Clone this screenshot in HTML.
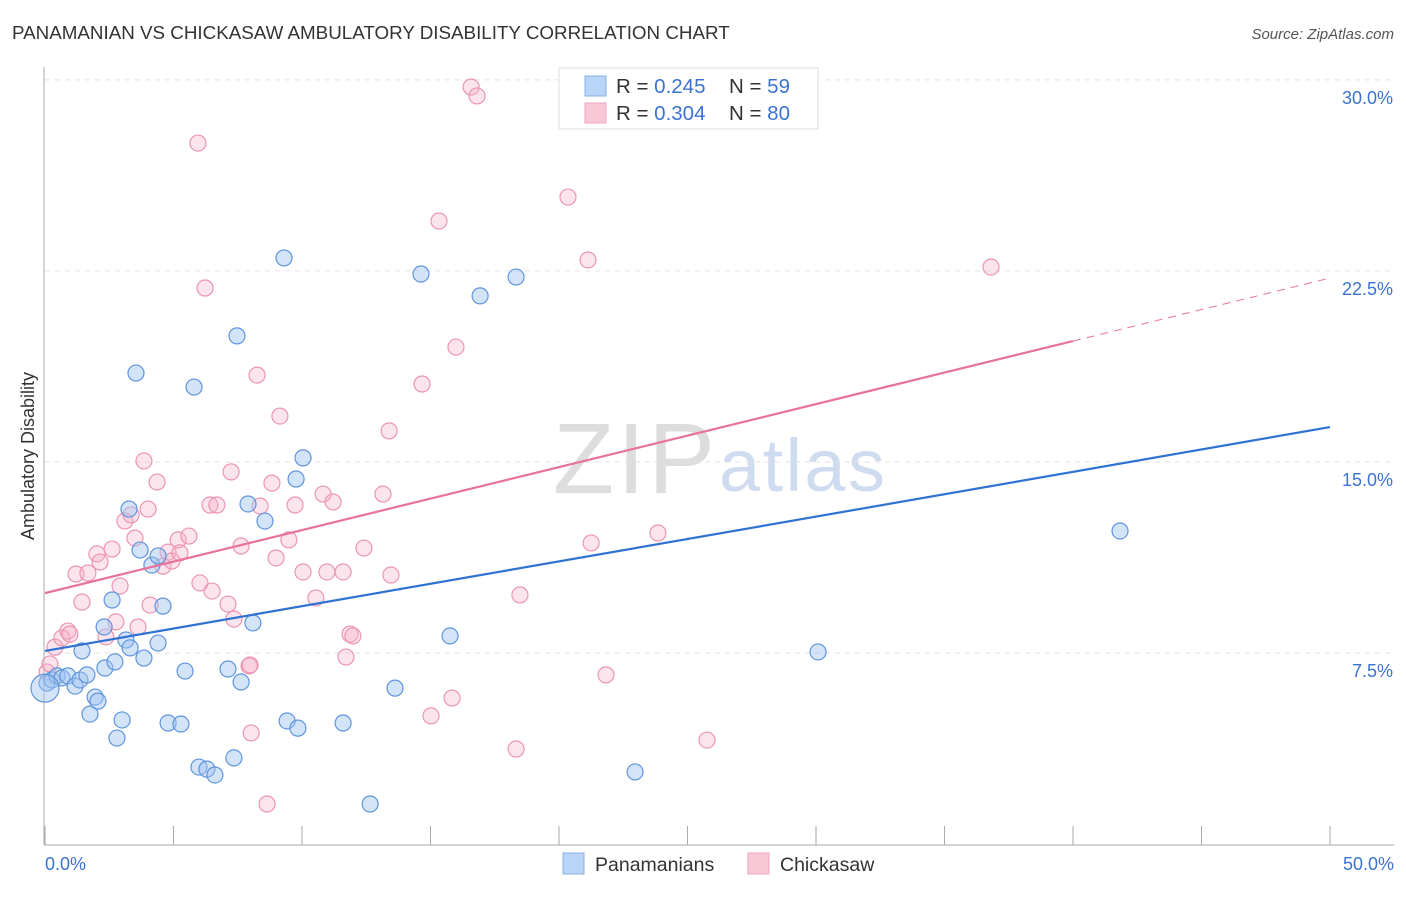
<!DOCTYPE html>
<html><head><meta charset="utf-8"><style>
body{margin:0;background:#fff;font-family:"Liberation Sans",sans-serif;}
svg text{font-family:"Liberation Sans",sans-serif;}
</style></head><body>
<svg id="c" width="1406" height="892" xmlns="http://www.w3.org/2000/svg">
<text x="12" y="39" font-size="18.8" fill="#333">PANAMANIAN VS CHICKASAW AMBULATORY DISABILITY CORRELATION CHART</text>
<text x="1394" y="39" font-size="15" fill="#555" font-style="italic" text-anchor="end">Source: ZipAtlas.com</text>
<text x="553" y="493" font-size="100" fill="#ddd" font-family="Liberation Serif" textLength="162">ZIP</text>
<text x="719" y="491" font-size="74" fill="#cfdcf0" textLength="166">atlas</text>
<g id="grid"></g><g id="axes"></g><g id="marks"></g>
<text transform="translate(34,456) rotate(-90)" font-size="18" fill="#333" text-anchor="middle">Ambulatory Disability</text>
<g>
<rect x="559" y="68" width="259" height="61" fill="#fff" stroke="#ddd"/>
<rect x="585" y="76" width="21" height="20" fill="#b8d4f6" stroke="#8ab0e6"/>
<rect x="585" y="103" width="21" height="20" fill="#f9c8d6" stroke="#efa6bd"/>
<text x="616" y="93" font-size="20.5" fill="#333">R = <tspan fill="#3b73d1">0.245</tspan><tspan x="729">N = </tspan><tspan fill="#3b73d1">59</tspan></text>
<text x="616" y="120" font-size="20.5" fill="#333">R = <tspan fill="#3b73d1">0.304</tspan><tspan x="729">N = </tspan><tspan fill="#3b73d1">80</tspan></text>
</g>
<g>
<rect x="563" y="853" width="21" height="21" fill="#b8d4f6" stroke="#8ab0e6"/>
<text x="595" y="871" font-size="19.5" fill="#333">Panamanians</text>
<rect x="748" y="853" width="21" height="21" fill="#f9c8d6" stroke="#efa6bd"/>
<text x="780" y="871" font-size="19.5" fill="#333">Chickasaw</text>
</g>
</svg>
<script>
const yTicks=[7.5,15,22.5,30];
const yTickLabels=["7.5%","15.0%","22.5%","30.0%"];
const xTickCount=[0,5,10,15,20,25,30,35,40,45,50];
const blueX=[0.08,0.27,0.47,0.66,0.89,1.17,1.36,1.63,1.75,1.95,2.06,2.33,2.72,2.80,3.00,2.30,2.61,3.15,3.31,3.27,3.70,3.85,4.16,4.40,4.40,4.59,4.79,5.29,5.45,3.54,5.80,5.99,6.30,6.61,7.12,7.35,7.63,7.47,7.90,8.09,8.56,9.30,9.42,9.77,9.84,10.04,11.60,12.65,13.62,14.63,15.76,16.93,18.33,22.96,30.08,41.83,1.44,0];
const blueY=[6.32,6.44,6.60,6.52,6.60,6.20,6.44,6.64,5.10,5.77,5.61,6.91,7.15,4.16,4.87,8.52,9.58,8.01,7.70,13.15,11.54,7.30,10.95,11.31,7.89,9.34,4.75,4.71,6.79,18.49,17.94,3.02,2.94,2.71,6.87,3.38,6.36,19.95,13.35,8.68,12.68,23.01,4.83,14.33,4.55,15.16,4.75,1.57,6.12,22.38,8.17,21.52,22.26,2.83,7.54,12.29,7.58,6.12];
const pinkX=[0.08,0.19,0.39,0.66,0.89,0.97,1.21,1.44,1.67,2.02,2.14,2.37,2.61,2.76,2.92,3.11,3.35,3.50,3.62,3.85,4.01,4.09,4.36,4.59,4.79,4.94,5.18,5.25,5.60,5.95,6.03,6.23,6.50,6.42,6.69,7.12,7.24,7.35,7.63,7.94,8.02,7.98,8.25,8.37,8.64,8.83,8.99,9.14,9.49,9.73,10.04,10.54,10.82,10.97,11.21,11.60,11.71,11.87,11.98,12.41,13.15,13.39,13.46,14.67,15.02,15.33,15.84,15.99,16.58,16.81,18.33,18.48,20.35,21.13,21.25,21.83,23.85,25.76,36.81];
const pinkY=[6.75,7.07,7.73,8.09,8.36,8.24,10.60,9.50,10.64,11.39,11.07,8.13,11.58,8.72,10.13,12.68,12.92,12.01,8.52,15.04,13.15,9.38,14.21,10.91,11.46,11.11,11.94,11.43,12.09,27.52,10.25,21.83,9.93,13.31,13.31,9.42,14.61,8.83,11.70,6.99,4.36,7.03,18.41,13.27,1.57,14.17,11.23,16.80,11.94,13.31,10.68,9.66,13.74,10.68,13.43,10.68,7.34,8.24,8.17,11.62,13.74,16.22,10.56,18.06,5.03,24.46,5.73,19.51,29.72,29.37,3.73,9.78,25.40,22.93,11.82,6.64,12.21,4.08,22.65];
const blueTrend=[7.58,16.37];
const pinkTrend=[9.85,22.22];
const pinkSolidEnd=40;
const X=v=>45+v*25.7, Y=v=>844-v*25.47;
const NS="http://www.w3.org/2000/svg";
function mk(t,a,p){const e=document.createElementNS(NS,t);for(const k in a)e.setAttribute(k,a[k]);p.appendChild(e);return e;}
const grid=document.getElementById('grid'),axes=document.getElementById('axes'),marks=document.getElementById('marks');
yTicks.forEach((t,i)=>{
 const l=mk('line',{x1:45,x2:1394,y1:Y(t),y2:Y(t),stroke:'#e2e2e2','stroke-dasharray':'5,5'},grid);
 
 
 const tx=mk('text',{x:1393,y:Y(t)+24,'font-size':18,fill:'#3b73d1','text-anchor':'end'},axes);
 tx.textContent=yTickLabels[i];
 
 
});
mk('line',{x1:44,x2:44,y1:67,y2:845,stroke:'#aaa'},axes);
mk('line',{x1:44,x2:1394,y1:845,y2:845,stroke:'#aaa'},axes);
xTickCount.forEach(t=>{const l=mk('line',{x1:X(t),x2:X(t),y1:826,y2:845,stroke:'#aaa'},axes);
 
 });
let a=mk('text',{x:45,y:870,'font-size':18,fill:'#3b73d1'},axes);a.textContent="0.0%";


a=mk('text',{x:1394,y:870,'font-size':18,fill:'#3b73d1','text-anchor':'end'},axes);a.textContent="50.0%";


pinkX.forEach((x,i)=>{const c=mk('circle',{cx:X(x),cy:Y(pinkY[i]),r:8,fill:'rgba(246,178,200,0.35)',stroke:'#eb95b2','stroke-width':1.2},marks);
 
 });
blueX.forEach((x,i)=>{const c=mk('circle',{cx:X(x),cy:Y(blueY[i]),r:i==blueX.length-1?14:8,fill:'rgba(160,196,240,0.45)',stroke:'#5f95dd','stroke-width':1.2},marks);
 
 });
const pm=pinkTrend[0]+(pinkTrend[1]-pinkTrend[0])*pinkSolidEnd/50;
let l=mk('line',{x1:X(0),y1:Y(pinkTrend[0]),x2:X(pinkSolidEnd),y2:Y(pm),stroke:'#e8729a','stroke-width':2.2},marks);


l=mk('line',{x1:X(pinkSolidEnd),y1:Y(pm),x2:X(50),y2:Y(pinkTrend[1]),stroke:'#e8729a','stroke-width':1,'stroke-dasharray':'8,6'},marks);


l=mk('line',{x1:X(0),y1:Y(blueTrend[0]),x2:X(50),y2:Y(blueTrend[1]),stroke:'#2f72d2','stroke-width':2.2},marks);


</script>
</body></html>
